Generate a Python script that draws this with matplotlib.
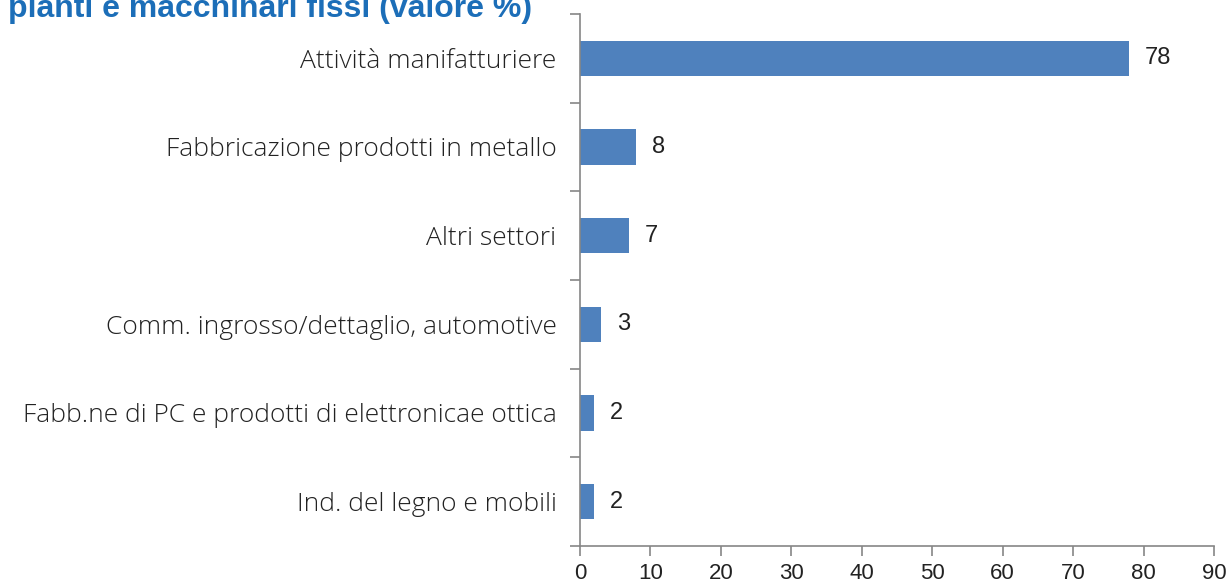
import matplotlib.pyplot as plt

# Quota per settore (valore %)
categorie = [
    "Attività manifatturiere",
    "Fabbricazione prodotti in metallo",
    "Altri settori",
    "Comm. ingrosso/dettaglio, automotive",
    "Fabb.ne di PC e prodotti di elettronicae ottica",
    "Ind. del legno e mobili",
]
valori = [78, 8, 7, 3, 2, 2]
xticks = [0, 10, 20, 30, 40, 50, 60, 70, 80, 90]

plt.rcParams['font.family'] = ['Open Sans', 'DejaVu Sans']
num_font = ['Liberation Sans Narrow', 'Liberation Sans', 'DejaVu Sans']
grigio = '#868686'

W, H = 1227, 587
fig = plt.figure(figsize=(W / 100, H / 100), dpi=100)
ax = fig.add_axes([580 / W, 1 - 546 / H, (1214 - 580) / W, (546 - 14) / H])

pos = list(range(len(categorie)))[::-1]
ax.barh(pos, valori, height=0.4, color='#4F81BD')
for p, v in zip(pos, valori):
    ax.text(v + 2.2, p, str(v), va='center', ha='left', fontsize=17,
            color='#222222', family=num_font)

ax.set_xlim(0, 90)
ax.set_ylim(-0.5, len(categorie) - 0.5)
ax.set_xticks(xticks)
ax.set_xticklabels([str(t) for t in xticks], fontsize=16, family=num_font,
                   color='#222222')
ax.set_yticks(pos)
ax.set_yticklabels(categorie, fontsize=19, color='#222222', fontweight='light')
ax.tick_params(axis='y', length=0, pad=17)
ax.tick_params(axis='x', length=7, width=1.2, color=grigio, pad=5)

# tick di separazione tra categorie
ax.set_yticks([i - 0.5 for i in range(len(categorie) + 1)], minor=True)
ax.tick_params(axis='y', which='minor', length=7, width=1.2, color=grigio)
for s in ['top', 'right']:
    ax.spines[s].set_visible(False)
for s in ['left', 'bottom']:
    ax.spines[s].set_color(grigio)
    ax.spines[s].set_linewidth(1.2)

# titolo tagliato in alto come nell'originale
fig.text(8 / W, 1 - 17 / H, "pianti e macchinari fissi (valore %)",
         fontsize=23, fontweight='bold', color='#1C6EB8', va='baseline',
         ha='left', family=['Liberation Sans', 'DejaVu Sans'])

fig.savefig('out.png', dpi=100)
